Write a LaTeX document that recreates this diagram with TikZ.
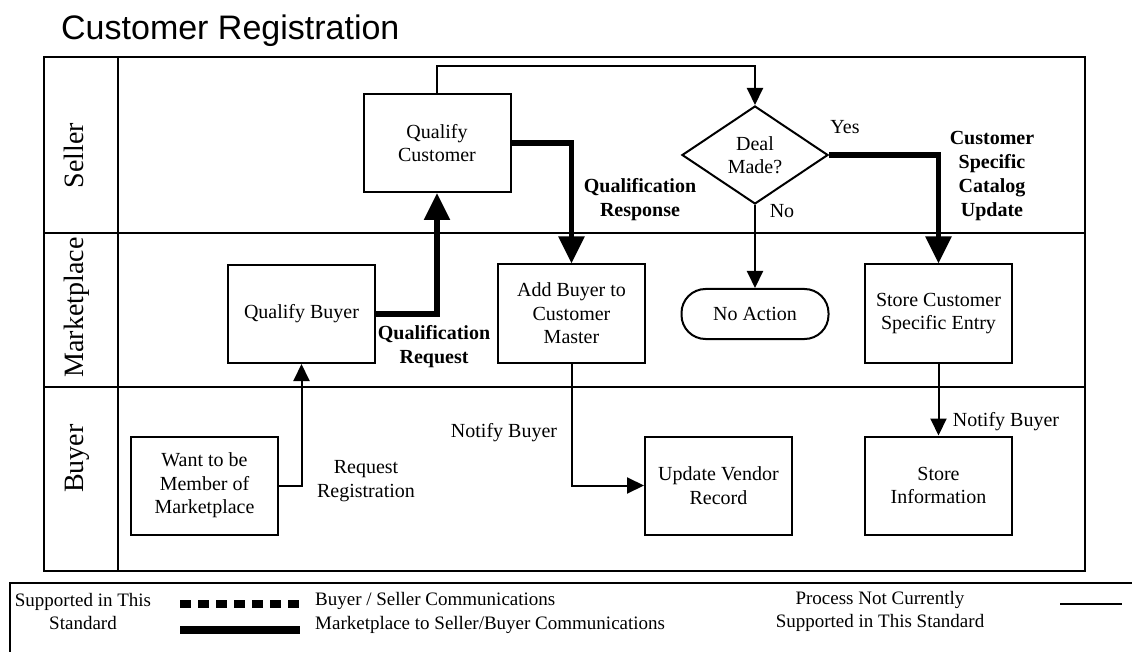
\documentclass[tikz,border=0pt]{standalone}
\usepackage{fontspec}
\setmainfont{Liberation Serif}
\newfontfamily\titlefont{Liberation Sans}
\usetikzlibrary{arrows.meta,shapes.geometric}

\begin{document}
\begin{tikzpicture}[x=1pt,y=-1pt,
  txt/.style={font=\fontsize{20}{23.5}\selectfont,align=center,inner sep=0pt},
  boldtxt/.style={font=\fontsize{20}{24}\selectfont\bfseries,align=center,inner sep=0pt},
  procbox/.style={draw,line width=2pt,minimum width=147pt,minimum height=98pt,
    align=center,inner sep=2pt,font=\fontsize{20}{23.5}\selectfont},
  decision/.style={draw,diamond,line width=2pt,minimum width=146pt,minimum height=98pt,
    aspect=1.5,inner sep=0pt,align=center,font=\fontsize{20}{23.5}\selectfont},
  terminal/.style={draw,line width=2pt,rounded corners=24pt,minimum width=147pt,
    minimum height=50pt,inner sep=2pt,font=\fontsize{20}{23.5}\selectfont},
  lanetitle/.style={rotate=90,anchor=base,inner sep=0pt,font=\fontsize{28}{30}\selectfont},
  flow/.style={line width=2pt,-{Triangle[length=17pt,width=16pt]}},
  msg/.style={line width=5.5pt,-{Triangle[length=27pt,width=25pt]}},
  frameline/.style={line width=2.2pt},
  legtxt/.style={font=\fontsize{19}{23}\selectfont,inner sep=0pt,align=center}
]
\useasboundingbox (0,0) rectangle (1132,652);

% title
\node[anchor=base west,inner sep=0pt,font=\titlefont\fontsize{34}{38}\selectfont]
  (title) at (61,40) {Customer Registration};

% swimlane frame
\draw[frameline] (44,57) rectangle (1085,571);
\draw[frameline] (118,57) -- (118,571);
\draw[frameline] (44,233) -- (1085,233);
\draw[frameline] (44,387) -- (1085,387);

\node[lanetitle] (laneS) at (83,155.5) {Seller};
\node[lanetitle] (laneM) at (83,307.5) {Marketplace};
\node[lanetitle] (laneB) at (83,458.5) {Buyer};

% process steps
\node[procbox] (QC) at (437,143) {Qualify\\Customer};
\node[decision] (DM) at (755,155) {Deal\\Made?};
\node[procbox] (QB) at (301.5,314) {Qualify Buyer};
\node[procbox] (AB) at (571.5,313.5) {Add Buyer to\\Customer\\Master};
\node[terminal] (NA) at (755,314) {No Action};
\node[procbox] (SC) at (938.5,313.5) {Store Customer\\Specific Entry};
\node[procbox] (WM) at (204.5,485.5) {Want to be\\Member of\\Marketplace};
\node[procbox] (UV) at (718.5,485.5) {Update Vendor\\Record};
\node[procbox] (SI) at (938.5,485.5) {Store\\Information};

% connectors
\draw[flow] (QC.north) -- ++(0,-27) -| (DM.north);
\draw[msg] (QC.east) -| (AB.north);
\draw[msg] (DM.east) -| (SC.north);
\draw[flow] (DM.south) -- (NA.north);
\draw[msg] (QB.east) -| (QC.south);
\draw[flow] (WM.east) -| (QB.south);
\draw[flow] (AB.south) |- (UV.west);
\draw[flow] (SC.south) -- (SI.north);

% connector labels
\node[txt] (yes) at (845,127) {Yes};
\node[txt] (no) at (782,211) {No};
\node[boldtxt] (qresp) at (640,200) {Qualification\\Response};
\node[boldtxt] (csc) at (992,176) {Customer\\Specific\\Catalog\\Update};
\node[boldtxt] (qreq) at (434,347) {Qualification\\Request};
\node[txt] (rreg) at (366,481) {Request\\Registration};
\node[txt] (nb1) at (504,433) {Notify Buyer};
\node[txt] (nb2) at (1006,422) {Notify Buyer};

% legend
\draw[frameline] (1132,583) -- (10,583) -- (10,652);
\node[legtxt] (leg1) at (83,611) {Supported in This\\Standard};
\draw[line width=8pt,dash pattern=on 10.5pt off 7.5pt] (180,604) -- (300,604);
\draw[line width=8pt] (180,630) -- (300,630);
\node[legtxt,anchor=base west] (leg2) at (315,605) {Buyer / Seller Communications};
\node[legtxt,anchor=base west] (leg3) at (315,629) {Marketplace to Seller/Buyer Communications};
\node[legtxt] (leg4) at (880,611) {Process Not Currently\\Supported in This Standard};
\draw[line width=2pt] (1060,604) -- (1122,604);
\end{tikzpicture}
\end{document}
